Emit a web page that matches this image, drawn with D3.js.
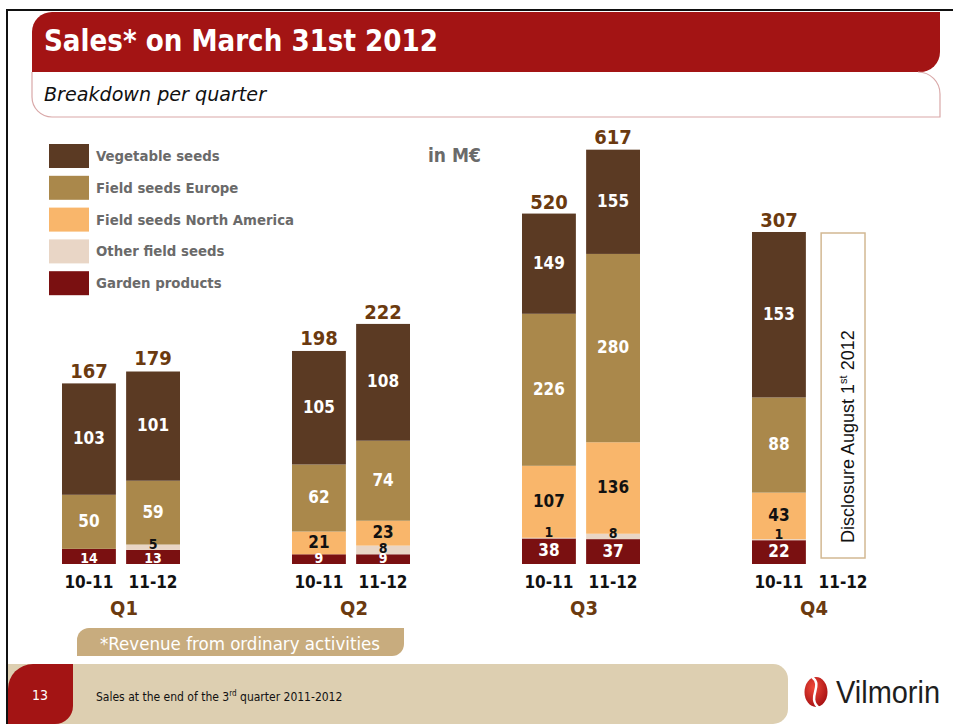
<!DOCTYPE html>
<html>
<head>
<meta charset="utf-8">
<script src="https://cdn.jsdelivr.net/npm/d3@7"></script>
<style>
body { margin: 0; background: #fff; }
svg { display: block; }
text { font-family: "DejaVu Sans Condensed", "DejaVu Sans", sans-serif; font-stretch: condensed; }
</style>
</head>
<body>
<div id="chart"></div>
<script>
var quarters = ["Q1", "Q2", "Q3", "Q4"];
var years = ["10-11", "11-12"];
var seriesNames = ["Vegetable seeds", "Field seeds Europe", "Field seeds North America", "Other field seeds", "Garden products"];
// one value per bar : Q1 10-11, Q1 11-12, Q2 10-11, Q2 11-12, ... (null = not published yet)
var vegetable   = [103, 101, 105, 108, 149, 155, 153, null];
var fieldEurope = [50, 59, 62, 74, 226, 280, 88, null];
var fieldNA     = [0, 0, 21, 23, 107, 136, 43, null];
var otherField  = [0, 5, 0, 8, 1, 8, 1, null];
var garden      = [14, 13, 9, 9, 38, 37, 22, null];
var totals      = [167, 179, 198, 222, 520, 617, 307, null];

var width = 953, height = 724;
var baseY = 564;
var barColors = ["#5b3a23", "#aa884b", "#f9b66b", "#e9d6c6", "#7a1011"];
var brown = "#6b3a0f";

var svg = d3.select("#chart").append("svg")
    .attr("width", width)
    .attr("height", height);

// ---- slide frame / header ----
svg.append("rect").attr("x", 6).attr("y", 9).attr("width", width - 6).attr("height", 2).attr("fill", "#111");
svg.append("rect").attr("x", 6).attr("y", 9).attr("width", 2).attr("height", height - 9).attr("fill", "#111");

svg.append("path")
    .attr("d", "M32,72 L32,32 A20,20 0 0 1 52,12 L940,12 L940,52 A20,20 0 0 1 920,72 Z")
    .attr("fill", "#a31414");
svg.append("path")
    .attr("d", "M32,72 L32,97 A20,20 0 0 0 52,117 L940,117 L940,94 A22,22 0 0 0 918,72")
    .attr("fill", "none")
    .attr("stroke", "#d9a8a8")
    .attr("stroke-width", 1.2);

svg.append("text")
    .attr("x", 44).attr("y", 51)
    .attr("fill", "#fff")
    .attr("font-size", 30)
    .attr("font-weight", "bold")
    .attr("textLength", 394)
    .attr("lengthAdjust", "spacingAndGlyphs")
    .text("Sales* on March 31st 2012");

svg.append("text")
    .attr("x", 44).attr("y", 101)
    .attr("fill", "#111")
    .attr("font-size", 20)
    .attr("font-style", "italic")
    .attr("textLength", 222)
    .attr("lengthAdjust", "spacingAndGlyphs")
    .text("Breakdown per quarter");

// ---- legend ----
var legend = svg.append("g").selectAll("g")
    .data(seriesNames)
    .enter()
    .append("g")
    .attr("transform", function (d, i) { return "translate(49," + (144 + i * 31.8) + ")"; });
legend.append("rect")
    .attr("width", 40).attr("height", 24)
    .attr("fill", function (d, i) { return barColors[i]; });
legend.append("text")
    .attr("x", 47).attr("y", 17)
    .attr("fill", "#6a6a6a")
    .attr("font-size", 14.8)
    .attr("font-weight", "bold")
    .text(function (d) { return d; });

svg.append("text")
    .attr("x", 428).attr("y", 162)
    .attr("fill", "#6a6a6a")
    .attr("font-size", 19)
    .attr("font-weight", "bold")
    .text("in M€");

// ---- data rows ----
var rows = totals.map(function (t, i) {
    return {
        quarter: quarters[Math.floor(i / 2)],
        year: years[i % 2],
        published: t !== null,
        total: t,
        garden: garden[i] || 0,
        other: otherField[i] || 0,
        na: fieldNA[i] || 0,
        eu: fieldEurope[i] || 0,
        veg: vegetable[i] || 0
    };
});

var keys = ["garden", "other", "na", "eu", "veg"];
var keyColor = { veg: barColors[0], eu: barColors[1], na: barColors[2], other: barColors[3], garden: barColors[4] };
var keyText = { veg: "#fff", eu: "#fff", na: "#111", other: "#111", garden: "#fff" };

var stacked = d3.stack().keys(keys)(rows);

// x : quarter groups, then the two seasons inside a group
var x = d3.scalePoint().domain(quarters).range([121, 811]);
var xIn = d3.scaleBand().domain(years).range([-59, 59]).paddingInner(0.16);

// the slide draws the big 3rd quarter on a compressed scale
var bigQuarter = function (q) {
    return d3.max(rows.filter(function (r) { return r.quarter === q; }), function (r) { return r.total; }) > 400;
};
var yShort = d3.scaleLinear()
    .domain([0, d3.max(rows.filter(function (r) { return !bigQuarter(r.quarter); }), function (r) { return r.total; })])
    .range([baseY, 232]);
var yTall = d3.scaleLinear()
    .domain([0, d3.max(rows, function (r) { return r.total; })])
    .range([baseY, 149]);
function yFor(q) { return bigQuarter(q) ? yTall : yShort; }
function barX(r) { return x(r.quarter) + xIn(r.year); }

var layers = svg.append("g").selectAll("g")
    .data(stacked)
    .enter()
    .append("g")
    .attr("fill", function (d) { return keyColor[d.key]; });

layers.selectAll("rect")
    .data(function (d) { return d.filter(function (s) { return s.data.published && s[1] > s[0]; }); })
    .enter()
    .append("rect")
    .attr("x", function (s) { return barX(s.data); })
    .attr("width", xIn.bandwidth())
    .attr("y", function (s) { return yFor(s.data.quarter)(s[1]); })
    .attr("height", function (s) { var y = yFor(s.data.quarter); return y(s[0]) - y(s[1]); });

// segment values (thin segments: number sits on the bottom edge, smaller)
function segH(s) { var y = yFor(s.data.quarter); return y(s[0]) - y(s[1]); }
stacked.forEach(function (layer) {
    svg.append("g").selectAll("text")
        .data(layer.filter(function (s) { return s.data.published && s[1] > s[0]; }))
        .enter()
        .append("text")
        .attr("x", function (s) { return barX(s.data) + xIn.bandwidth() / 2; })
        .attr("y", function (s) {
            var y = yFor(s.data.quarter);
            var h = segH(s);
            if (h < 16) return y(s[0]) - 1;
            return (y(s[0]) + y(s[1])) / 2 + 5;
        })
        .attr("text-anchor", "middle")
        .attr("fill", keyText[layer.key])
        .attr("font-size", function (s) { return segH(s) < 16 ? 14 : 17; })
        .attr("font-weight", "bold")
        .text(function (s) { return s.data[layer.key]; });
});

// totals
svg.append("g").selectAll("text")
    .data(rows.filter(function (r) { return r.published; }))
    .enter()
    .append("text")
    .attr("x", function (r) { return barX(r) + xIn.bandwidth() / 2; })
    .attr("y", function (r) { return yFor(r.quarter)(r.total) - 5; })
    .attr("text-anchor", "middle")
    .attr("fill", brown)
    .attr("font-size", 20)
    .attr("font-weight", "bold")
    .text(function (r) { return r.total; });

// unpublished quarter
var pending = rows.filter(function (r) { return !r.published; });
pending.forEach(function (r) {
    var bx = barX(r) + 5, bw = xIn.bandwidth() - 10;
    svg.append("rect")
        .attr("x", bx).attr("y", 233)
        .attr("width", bw).attr("height", 325)
        .attr("fill", "#fff")
        .attr("stroke", "#d2b893")
        .attr("stroke-width", 1.5);
    var t = svg.append("text")
        .attr("transform", "translate(" + (bx + bw / 2 + 11) + ",543) rotate(-90)")
        .style("font-family", "Liberation Sans, Arial, sans-serif")
        .style("font-stretch", "normal")
        .attr("font-size", 18)
        .attr("fill", "#111");
    t.append("tspan").text("Disclosure August 1");
    t.append("tspan").attr("font-size", 11).attr("dy", -7).text("st");
    t.append("tspan").attr("dy", 7).text(" 2012");
});

// season & quarter labels
svg.append("g").selectAll("text")
    .data(rows)
    .enter()
    .append("text")
    .attr("x", function (r) { return barX(r) + xIn.bandwidth() / 2; })
    .attr("y", 588)
    .attr("text-anchor", "middle")
    .attr("fill", "#111")
    .attr("font-size", 17)
    .attr("font-weight", "bold")
    .text(function (r) { return r.year; });

svg.append("g").selectAll("text")
    .data(quarters)
    .enter()
    .append("text")
    .attr("x", function (q) { return x(q) + 3; })
    .attr("y", 615)
    .attr("text-anchor", "middle")
    .attr("fill", brown)
    .attr("font-size", 20)
    .attr("font-weight", "bold")
    .text(function (q) { return q; });

// ---- footnote & footer ----
svg.append("path")
    .attr("d", "M77,656 L77,640 A12,12 0 0 1 89,628 L404,628 L404,644 A12,12 0 0 1 392,656 Z")
    .attr("fill", "#c8ac7e");
svg.append("text")
    .attr("x", 100).attr("y", 650)
    .attr("fill", "#fff")
    .attr("font-size", 17)
    .attr("textLength", 280)
    .attr("lengthAdjust", "spacingAndGlyphs")
    .text("*Revenue from ordinary activities");

svg.append("path")
    .attr("d", "M8,664 L773,664 A15,15 0 0 1 788,679 L788,709 A15,15 0 0 1 773,724 L8,724 Z")
    .attr("fill", "#ddcfb1");
svg.append("path")
    .attr("d", "M8,724 L8,689 A25,25 0 0 1 33,664 L73,664 L73,706 A18,18 0 0 1 55,724 Z")
    .attr("fill", "#a31414");
svg.append("text")
    .attr("x", 40).attr("y", 700)
    .attr("text-anchor", "middle")
    .attr("fill", "#fff")
    .attr("font-size", 14)
    .text("13");

var foot = svg.append("text")
    .attr("x", 96).attr("y", 701)
    .attr("fill", "#111")
    .attr("font-size", 12);
foot.append("tspan").text("Sales at the end of the 3");
foot.append("tspan").attr("font-size", 8).attr("dy", -5).text("rd");
foot.append("tspan").attr("dy", 5).text(" quarter 2011-2012");

// logo
var grad = svg.append("defs").append("radialGradient")
    .attr("id", "logoGrad").attr("cx", "40%").attr("cy", "35%").attr("r", "70%");
grad.append("stop").attr("offset", "0%").attr("stop-color", "#f04a3a");
grad.append("stop").attr("offset", "100%").attr("stop-color", "#a50f12");
svg.append("ellipse")
    .attr("cx", 816).attr("cy", 692).attr("rx", 11.5).attr("ry", 15)
    .attr("fill", "url(#logoGrad)");
svg.append("path")
    .attr("d", "M812,677 C824,686 806,697 819,708")
    .attr("fill", "none")
    .attr("stroke", "#fff")
    .attr("stroke-width", 2.5);
svg.append("text")
    .attr("x", 836).attr("y", 703)
    .style("font-family", "Liberation Sans, Arial, sans-serif")
    .style("font-stretch", "normal")
    .attr("fill", "#1e1e1e")
    .attr("font-size", 31)
    .attr("textLength", 104)
    .attr("lengthAdjust", "spacingAndGlyphs")
    .text("Vilmorin");
</script>
</body>
</html>
